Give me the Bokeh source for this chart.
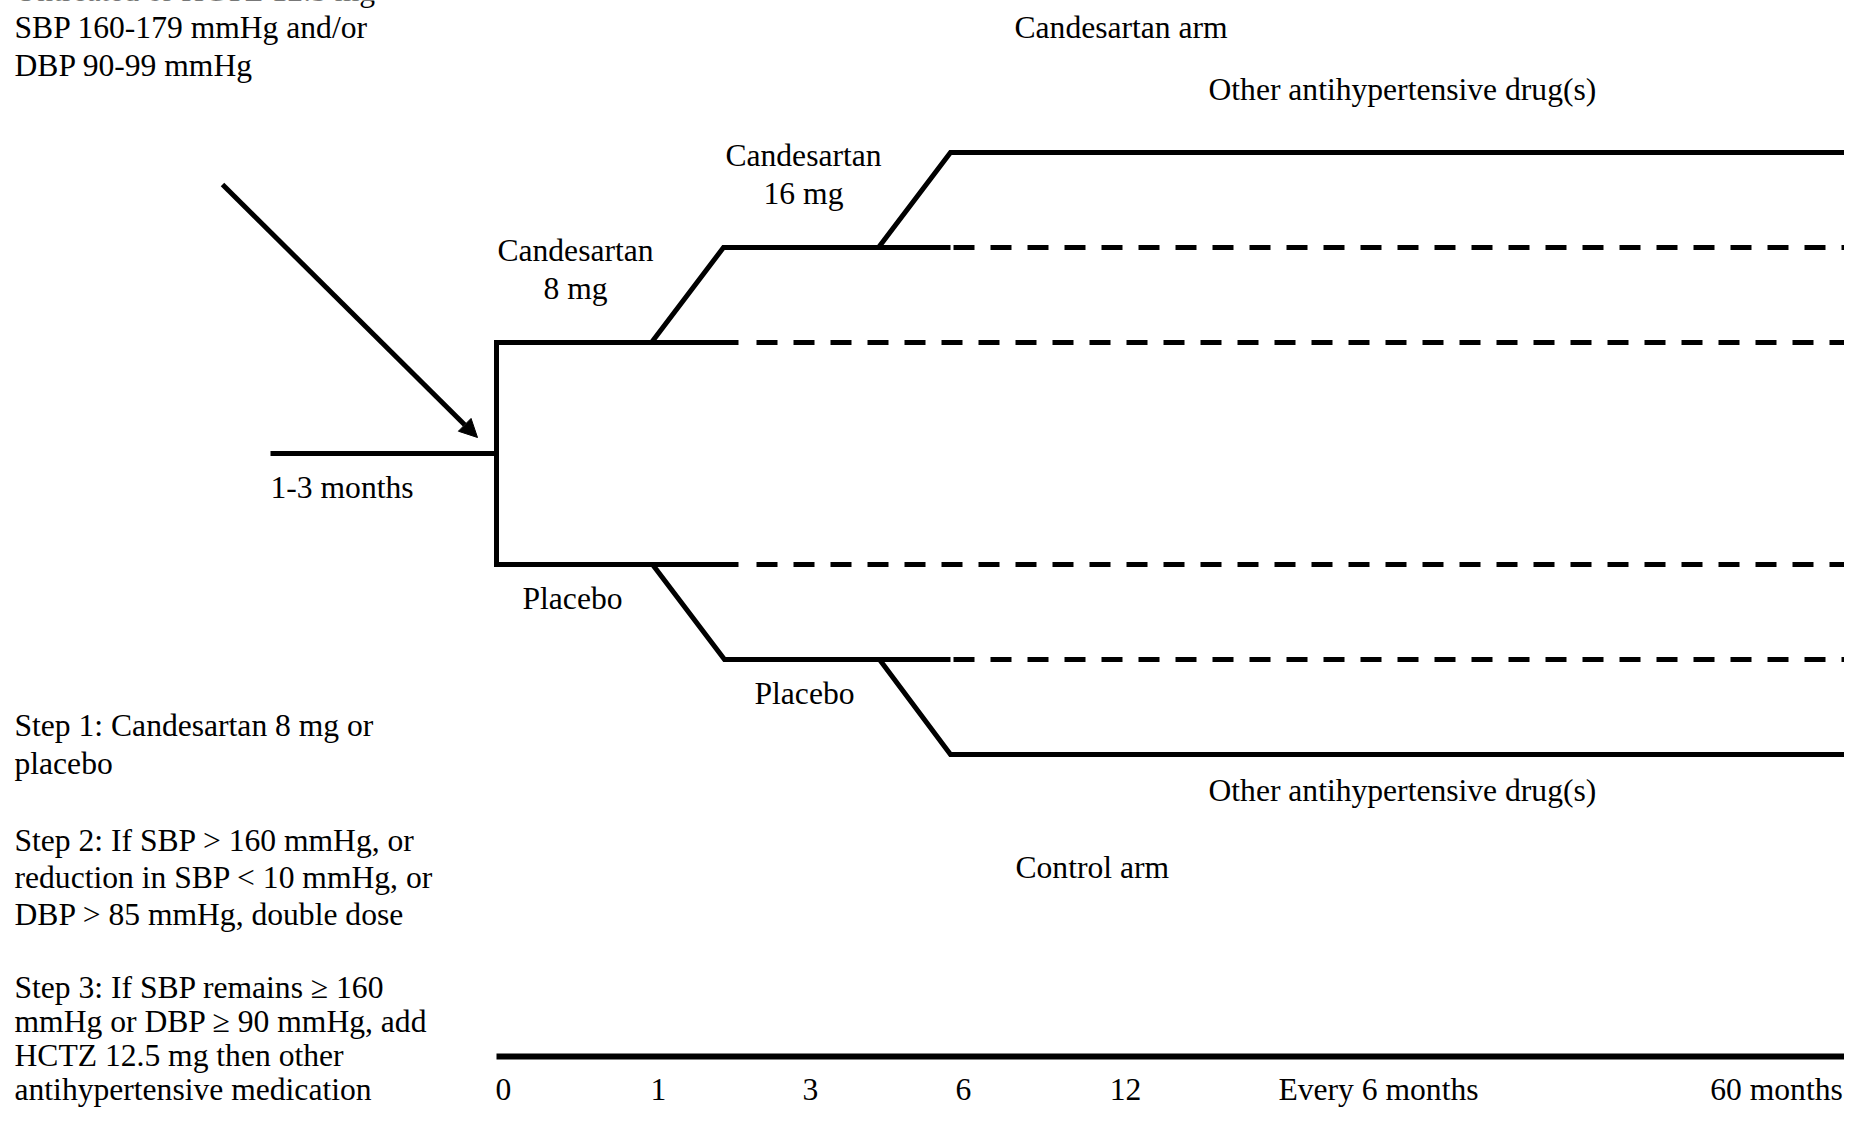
from bokeh.plotting import figure
from bokeh.models import ColumnDataSource, Range1d, Arrow, NormalHead
from bokeh.core.properties import value
from bokeh.embed import file_html
from bokeh.resources import INLINE

# ---------------- diagram content (diagram units) ----------------
# Timeline (bottom axis)
tick_labels = ["0", "1", "3", "6", "12", "Every 6 months", "60 months"]
tick_x = [503, 658, 810, 963, 1125, 1378, 1776]
tick_y = 1089
timeline_x = [496, 1860]
timeline_y = 1056

# Run-in period and randomisation bracket
runin_x = [270, 496]
runin_y = [453, 453]
bracket_x = [738, 496, 496, 738]
bracket_y = [564, 564, 342, 342]

# Titration steps (solid polylines)
step_paths_x = [[651, 723, 950], [878, 950, 1860], [652, 724, 950], [879, 950, 1860]]
step_paths_y = [[342, 247, 247], [247, 152, 152], [564, 659, 659], [659, 754, 754]]

# Continuing (dashed) treatment lines
dash_x = [[756, 1860], [953, 1860], [756, 1860], [953, 1860]]
dash_y = [[342, 342], [247, 247], [564, 564], [659, 659]]

# Screening arrow
arrow_start = (222, 184)
arrow_end = (477, 437)

# Left-aligned labels
left_text = [
    "Untreated or HCTZ 12.5 mg",
    "SBP 160-179 mmHg and/or",
    "DBP 90-99 mmHg",
    "1-3 months",
    "Candesartan arm",
    "Other antihypertensive drug(s)",
    "Other antihypertensive drug(s)",
    "Control arm",
    "Step 1: Candesartan 8 mg or",
    "placebo",
    "Step 2: If SBP > 160 mmHg, or",
    "reduction in SBP < 10 mmHg, or",
    "DBP > 85 mmHg, double dose",
    "Step 3: If SBP remains \u2265 160",
    "mmHg or DBP \u2265 90 mmHg, add",
    "HCTZ 12.5 mg then other",
    "antihypertensive medication",
]
left_x = [14, 14, 14, 270, 1014, 1208, 1208, 1015,
          14, 14, 14, 14, 14, 14, 14, 14, 14]
left_y = [-10, 27, 65, 487, 27, 89, 790, 867,
          725, 763, 840, 877, 914, 987, 1021, 1055, 1089]

# Centred labels
center_text = ["Candesartan", "16 mg", "Candesartan", "8 mg", "Placebo", "Placebo"]
center_x = [803, 803, 575, 575, 572, 804]
center_y = [155, 193, 250, 288, 598, 693]

# ---------------- figure ----------------
W, H = 1844, 1108
FONT = "Liberation Serif"
FS = "31.6px"
LW = 5

p = figure(width=W, height=H, x_range=Range1d(0, W), y_range=Range1d(H, 0),
           output_backend="svg", toolbar_location=None, min_border=0,
           x_axis_location=None, y_axis_location=None)
p.grid.visible = False
p.outline_line_color = None
p.background_fill_color = "white"
p.border_fill_color = "white"

# solid lines
p.multi_line(xs=[runin_x, bracket_x] + step_paths_x,
             ys=[runin_y, bracket_y] + step_paths_y,
             line_color="black", line_width=LW, line_join="miter", line_cap="butt")
# dashed lines
p.multi_line(xs=dash_x, ys=dash_y, line_color="black", line_width=LW,
             line_dash="21 16", line_cap="butt")
# timeline
p.segment(x0=[timeline_x[0]], y0=[timeline_y], x1=[timeline_x[1]], y1=[timeline_y],
          line_color="black", line_width=6)

# arrow
p.add_layout(Arrow(end=NormalHead(size=18, fill_color="black", line_color="black", line_width=1),
                   x_start=arrow_start[0], y_start=arrow_start[1],
                   x_end=arrow_end[0], y_end=arrow_end[1],
                   line_width=LW, line_color="black"))

# texts
src_l = ColumnDataSource(dict(x=left_x, y=left_y, t=left_text))
p.text(x="x", y="y", text="t", source=src_l, text_font=value(FONT), text_font_size=FS,
       text_align="left", text_baseline="alphabetic", text_color="black")
src_c = ColumnDataSource(dict(x=center_x, y=center_y, t=center_text))
p.text(x="x", y="y", text="t", source=src_c, text_font=value(FONT), text_font_size=FS,
       text_align="center", text_baseline="alphabetic", text_color="black")
src_t = ColumnDataSource(dict(x=tick_x, y=[tick_y] * len(tick_x), t=tick_labels))
p.text(x="x", y="y", text="t", source=src_t, text_font=value(FONT), text_font_size=FS,
       text_align="center", text_baseline="alphabetic", text_color="black")

open("out.html", "w").write(file_html(p, INLINE))
